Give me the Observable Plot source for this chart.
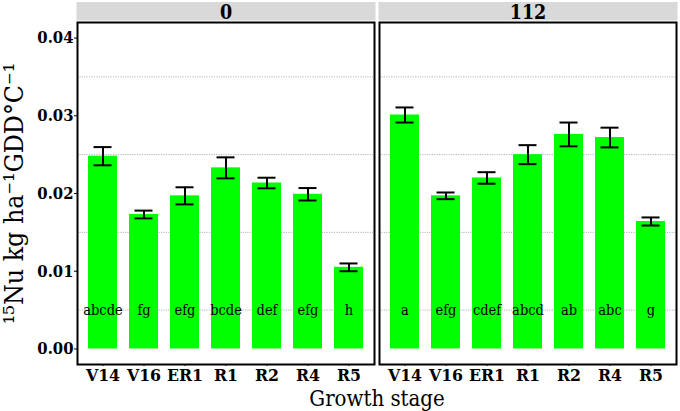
<!DOCTYPE html>
<html><head><meta charset="utf-8">
<script src="https://cdn.jsdelivr.net/npm/d3@7"></script>
<script src="https://cdn.jsdelivr.net/npm/@observablehq/plot@0.6"></script>
<style>
body{margin:0;background:#fff;}
</style>
</head><body><div id="chart"></div>
<script>
const stages = ["V14","V16","ER1","R1","R2","R4","R5"];
const doses = ["0","112"];
const mean0 = [0.0248, 0.0173, 0.0197, 0.0233, 0.02135, 0.0199, 0.0105];
const se0 = [0.00117, 0.0005, 0.0011, 0.00135, 0.00068, 0.0008, 0.0005];
const letters0 = ["abcde","fg","efg","bcde","def","efg","h"];
const mean112 = [0.0301, 0.0197, 0.0220, 0.0250, 0.0276, 0.0272, 0.0164];
const se112 = [0.00097, 0.00043, 0.00074, 0.00122, 0.00153, 0.00127, 0.00052];
const letters112 = ["a","efg","cdef","abcd","ab","abc","g"];
const yTicks = [0, 0.01, 0.02, 0.03, 0.04];
const gridLines = [0.005, 0.015, 0.025, 0.035];
const yLabel = "¹⁵Nu kg ha⁻¹GDD°C⁻¹";
const xLabel = "Growth stage";

const series = {"0": [mean0, se0, letters0], "112": [mean112, se112, letters112]};
const data = [];
for (const dose of doses) {
  const [m, s, L] = series[dose];
  stages.forEach((stage, i) => data.push({dose, stage, value: m[i], lo: m[i] - s[i], hi: m[i] + s[i], letter: L[i]}));
}

const W = 680, H = 411, mt = 22, mb = 47, ml = 76, mr = 3;
const panelH = H - mt - mb;
const letterY = 0.005;
const serif = "DejaVu Serif Condensed";

const chart = Plot.plot({
  width: W, height: H, marginTop: mt, marginBottom: mb, marginLeft: ml, marginRight: mr,
  style: {background: "white", color: "black", fontFamily: serif},
  fx: {domain: doses, paddingInner: 0.0165, paddingOuter: 0, label: null},
  x: {domain: stages, paddingInner: 0.3, paddingOuter: 0.25, label: null},
  y: {domain: [-0.002, 0.042], label: null},
  marks: [
    Plot.frame({fill: "#d9d9d9", insetTop: -20.5, insetBottom: panelH + 2, insetLeft: -1, insetRight: -1}),
    Plot.frame({fill: "white"}),
    Plot.ruleY(gridLines, {stroke: "#a0a0a0", strokeWidth: 0.8, strokeDasharray: "1.2,1.2"}),
    Plot.barY(data, {fx: "dose", x: "stage", y: "value", fill: "#00ff00"}),
    Plot.ruleX(data, {fx: "dose", x: "stage", y1: "lo", y2: "hi", stroke: "black", strokeWidth: 2}),
    Plot.tickY(data, {fx: "dose", x: "stage", y: "lo", insetLeft: 5.5, insetRight: 5.5, stroke: "black", strokeWidth: 2}),
    Plot.tickY(data, {fx: "dose", x: "stage", y: "hi", insetLeft: 5.5, insetRight: 5.5, stroke: "black", strokeWidth: 2}),
    Plot.text(data, {fx: "dose", x: "stage", y: () => letterY, text: "letter", fontSize: 14.5, fontFamily: serif, fill: "black"}),
    Plot.frame({stroke: "black", strokeWidth: 2}),
    Plot.text(doses, {fx: d => d, text: d => d, frameAnchor: "top", lineAnchor: "middle", dy: -10, fontSize: 19.5, fontWeight: "bold", fontFamily: serif, fill: "black"}),
    Plot.axisX({tickSize: 2, tickPadding: 2, fontSize: 17.5, fontWeight: "bold", fontFamily: serif, label: null}),
    Plot.axisY({ticks: yTicks, tickFormat: d3.format(".2f"), tickSize: 3, tickPadding: 1, fontSize: 16.5, fontWeight: "bold", fontFamily: serif, label: null}),
    Plot.axisY({ticks: [], tickSize: 0, label: yLabel, labelAnchor: "center", labelArrow: "none", labelOffset: 73, fontSize: 26.5, fontFamily: serif}),
    Plot.axisFx({anchor: "bottom", ticks: [], tickSize: 0, label: xLabel, labelAnchor: "center", labelArrow: "none", labelOffset: 41, fontSize: 22, fontFamily: serif})
  ]
});
document.getElementById("chart").appendChild(chart);
</script>
</body></html>
